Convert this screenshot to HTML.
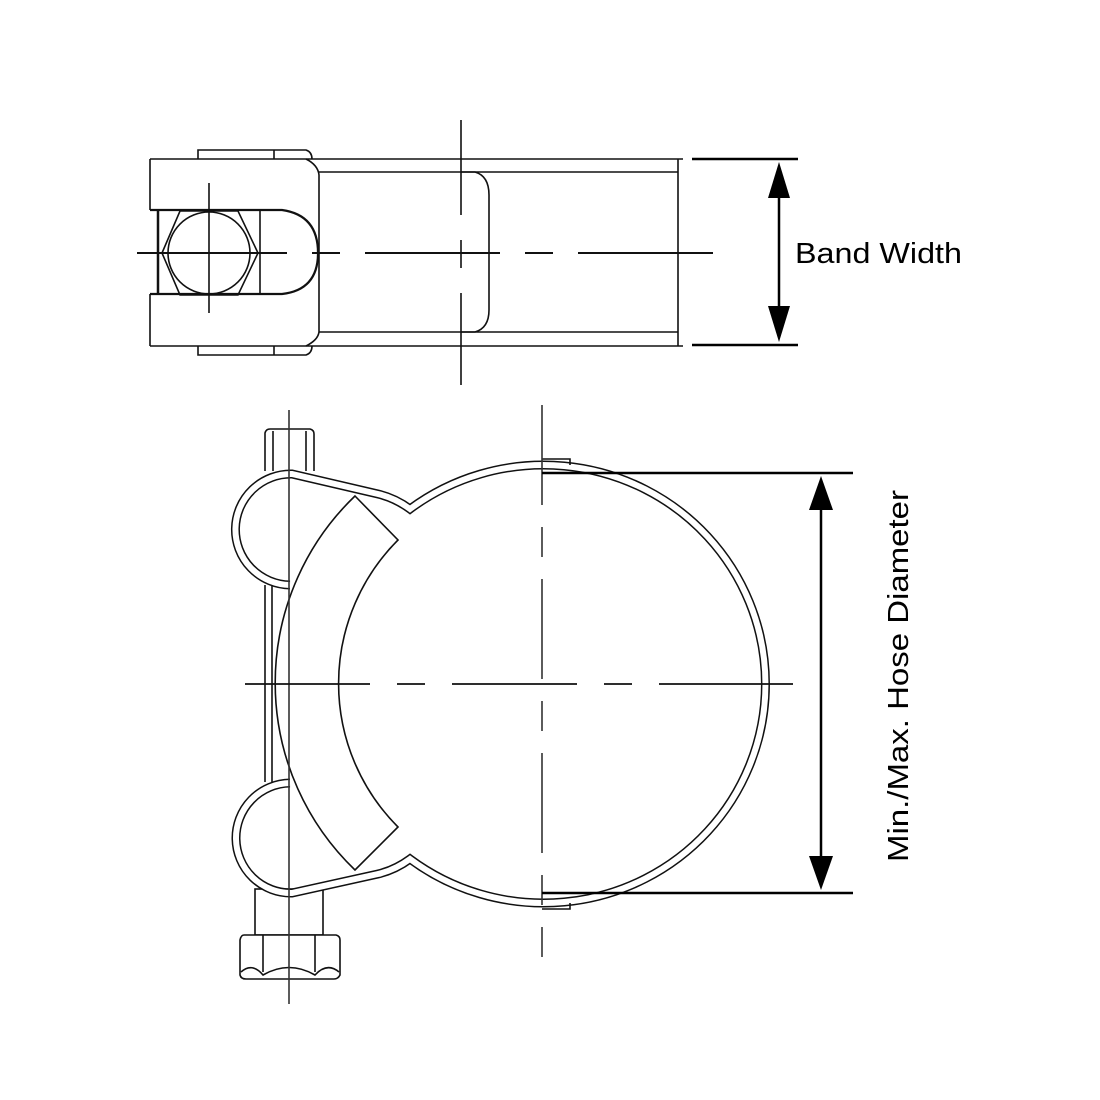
<!DOCTYPE html>
<html><head><style>html,body{margin:0;padding:0;background:#fff}svg{display:block}</style></head>
<body>
<svg width="1100" height="1100" viewBox="0 0 1100 1100" xmlns="http://www.w3.org/2000/svg">
<rect width="1100" height="1100" fill="#fff"/>
<g fill="none" stroke="#111" stroke-width="1.6">
<path d="M198 159 V150 H306 Q312 152 312 159"/>
<path d="M198 346 V355 H306 Q312 353 312 346"/>
<line x1="274" y1="150" x2="274" y2="159"/><line x1="274" y1="346" x2="274" y2="355"/>
<path d="M150 159 H683 M150 346 H683 M150 159 V210 M150 294 V346"/>
<path d="M306 159 Q318 165 319 175 V332 Q318 340 306 346"/>
<path d="M319 172 H678 M319 332 H678 M678 159 V346"/>
<path d="M150 210 H282 Q318 215 318 253 Q318 290 282 294 H150" stroke-width="2.2"/>
<line x1="158" y1="210" x2="158" y2="294" stroke-width="2.5"/>
<line x1="260" y1="210" x2="260" y2="294"/>
<circle cx="209" cy="253" r="41"/>
<path d="M180 211 L238 211 L258 253 L238 295 L180 295 L162 253 Z"/>
<path d="M461 172 H475 Q489 176 489 195 V310 Q489 328 475 332 H461"/>
<line x1="461" y1="120" x2="461" y2="385" stroke-dasharray="95,25,28,25,200"/>
<line x1="137" y1="253" x2="713" y2="253" stroke-width="2" stroke-dasharray="150,25,28,25,135,25,28,25,200"/>
<line x1="209" y1="183" x2="209" y2="313"/>
</g>
<g stroke="#000" stroke-width="2.5">
<line x1="692" y1="159" x2="798" y2="159"/>
<line x1="692" y1="345" x2="798" y2="345"/>
<line x1="779" y1="185" x2="779" y2="320"/>
</g>
<polygon points="779,162 768,198 790,198" fill="#000"/>
<polygon points="779,342 768,306 790,306" fill="#000"/>
<text x="795" y="263" font-family="Liberation Sans, sans-serif" font-size="29" textLength="167" lengthAdjust="spacingAndGlyphs" fill="#000">Band Width</text>

<g fill="none">
<g stroke="#111" stroke-width="1.6" fill="#fff">
<path d="M265 471 V433 Q266 429 270 429 H310 Q314 430 314 434 V471"/>
<line x1="273" y1="431" x2="273" y2="471"/><line x1="306" y1="431" x2="306" y2="471"/>
<rect x="255" y="889" width="68" height="46"/>
<path d="M244 935 H336 Q340 936 340 940 V975 Q338 979 334 979 H246 Q241 979 240 975 V940 Q241 935 244 935 Z"/>
<line x1="263" y1="935" x2="263" y2="975"/><line x1="315" y1="935" x2="315" y2="975"/>
<path d="M241 972 Q252 962 263 975 Q289 960 315 975 Q327 962 339 972"/>
</g>
<g stroke="#111" stroke-width="1.6"><line x1="265" y1="585" x2="265" y2="782"/><line x1="272" y1="585" x2="272" y2="782"/></g>
<path d="M290 585 A54 54 0 1 1 292 474 L378 494 Q395 498 410 509 A222 219 0 1 1 410 859 Q395 870 378 874 L292 893 A54 54 0 1 1 290 783" stroke="#111" stroke-width="9"/>
<path d="M290 585 A54 54 0 1 1 292 474 L378 494 Q395 498 410 509 A222 219 0 1 1 410 859 Q395 870 378 874 L292 893 A54 54 0 1 1 290 783" stroke="#fff" stroke-width="6"/>
<path d="M542 459 H570 V465" stroke="#111" stroke-width="1.6"/>
<path d="M542 909 H570 V903" stroke="#111" stroke-width="1.6"/>
<path d="M355 496 L398 540 A203 203 0 0 0 398 827 L355 870 A259 259 0 0 1 355 496 Z" fill="#fff" stroke="#111" stroke-width="1.6"/>
<line x1="289" y1="410" x2="289" y2="1004" stroke="#333" stroke-width="1.6"/>
<line x1="542" y1="405" x2="542" y2="957" stroke="#333" stroke-width="1.6" stroke-dasharray="100,22,30,22"/>
<line x1="245" y1="684" x2="793" y2="684" stroke="#111" stroke-width="1.8" stroke-dasharray="125,27,28,27,125,27,28,27,200"/>
</g>
<g stroke="#000" stroke-width="2.5">
<line x1="542" y1="473" x2="853" y2="473"/>
<line x1="542" y1="893" x2="853" y2="893"/>
<line x1="821" y1="500" x2="821" y2="866"/>
</g>
<polygon points="821,476 809,510 833,510" fill="#000"/>
<polygon points="821,890 809,856 833,856" fill="#000"/>
<text transform="translate(908,676) rotate(-90)" text-anchor="middle" font-family="Liberation Sans, sans-serif" font-size="29" textLength="372" lengthAdjust="spacingAndGlyphs" fill="#000">Min./Max. Hose Diameter</text>
</svg>
</body></html>
